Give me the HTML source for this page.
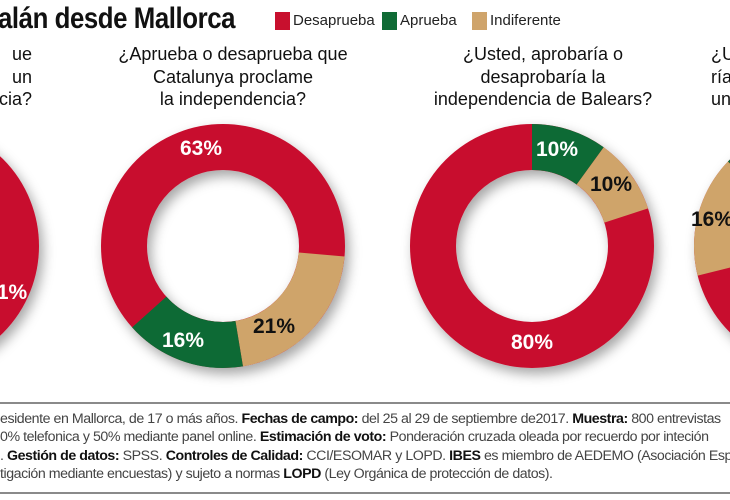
<!DOCTYPE html>
<html><head><meta charset="utf-8"><style>
html,body{margin:0;padding:0;background:#fff;}
body{width:730px;height:500px;position:relative;overflow:hidden;font-family:"Liberation Sans Narrow","Liberation Sans",sans-serif;}
.t{position:absolute;white-space:nowrap;}
.title{left:-2px;top:2px;font-size:30px;font-weight:bold;color:#111;letter-spacing:-0.5px;transform:scaleX(0.86);transform-origin:0 0;}
.leg{top:12px;font-size:15px;color:#222;}
.sq{position:absolute;top:12px;width:15px;height:18px;}
.q{position:absolute;font-size:18px;line-height:22.5px;color:#111;text-align:center;}
.foot{position:absolute;left:0;font-family:"Liberation Sans",sans-serif;font-size:14.2px;color:#444;white-space:nowrap;letter-spacing:-0.45px;}
.foot b{color:#111;font-weight:bold;}
.rule{position:absolute;left:0;width:730px;height:2px;background:#8a8a8a;}
</style></head><body>
<div class="t title">alán desde Mallorca</div>
<div class="sq" style="left:275px;background:#c8102e"></div><div class="t leg" style="left:293px">Desaprueba</div>
<div class="sq" style="left:382px;background:#0f6b35"></div><div class="t leg" style="left:400px">Aprueba</div>
<div class="sq" style="left:472px;background:#cfa46b"></div><div class="t leg" style="left:490px">Indiferente</div>

<div class="q" style="left:-60px;width:92px;top:43px;text-align:right">ue<br>un<br>cia?</div>
<div class="q" style="left:113px;width:240px;top:43px">¿Aprueba o desaprueba que<br>Catalunya proclame<br>la independencia?</div>
<div class="q" style="left:423px;width:240px;top:43px">¿Usted, aprobaría o<br>desaprobaría la<br>independencia de Balears?</div>
<div class="q" style="left:711px;width:60px;top:43px;text-align:left">¿U<br>ría<br>un</div>

<svg width="730" height="400" style="position:absolute;left:0;top:0">
<defs><filter id="sh" x="-20%" y="-20%" width="150%" height="150%"><feDropShadow dx="4" dy="6" stdDeviation="6" flood-color="#000" flood-opacity="0.35"/></filter></defs>
<g filter="url(#sh)">
<circle cx="-84" cy="246" r="100" fill="none" stroke="#c8102e" stroke-width="46"/>
<g transform="translate(223,246) rotate(-90)">
<circle r="99" fill="none" stroke="#c8102e" stroke-width="46"/>
<circle r="99" fill="none" stroke="#cfa46b" stroke-width="46" stroke-dasharray="130.6 1000" stroke-dashoffset="-164"/>
<circle r="99" fill="none" stroke="#0f6b35" stroke-width="46" stroke-dasharray="99.5 1000" stroke-dashoffset="-294.6"/>
</g>
<g transform="translate(532,246) rotate(-90)">
<circle r="99" fill="none" stroke="#c8102e" stroke-width="46"/>
<circle r="99" fill="none" stroke="#0f6b35" stroke-width="46" stroke-dasharray="62.2 1000"/>
<circle r="99" fill="none" stroke="#cfa46b" stroke-width="46" stroke-dasharray="62.2 1000" stroke-dashoffset="-62.2"/>
</g>
<g transform="translate(816,246) rotate(-90)">
<circle r="99" fill="none" stroke="#c8102e" stroke-width="46"/>
<circle r="99" fill="none" stroke="#cfa46b" stroke-width="46" stroke-dasharray="100 1000" stroke-dashoffset="-442"/>
<circle r="99" fill="none" stroke="#0f6b35" stroke-width="46" stroke-dasharray="60 1000" stroke-dashoffset="-542"/>
</g>
</g>
<g font-family="Liberation Sans, sans-serif" font-weight="bold" font-size="21" text-anchor="middle">
<text x="12" y="299" fill="#fff">1%</text>
<text x="201" y="155" fill="#fff">63%</text>
<text x="183" y="347" fill="#fff">16%</text>
<text x="274" y="333" fill="#111">21%</text>
<text x="557" y="156" fill="#fff">10%</text>
<text x="611" y="191" fill="#111">10%</text>
<text x="532" y="349" fill="#fff">80%</text>
<text x="712" y="226" fill="#111">16%</text>
</g>
</svg>

<div class="rule" style="top:402px"></div>
<div class="foot" style="top:411px">esidente en Mallorca, de 17 o más años. <b>Fechas de campo:</b> del 25 al 29 de septiembre de2017. <b>Muestra:</b> 800 entrevistas</div>
<div class="foot" style="top:429px">0% telefonica y 50% mediante panel online. <b>Estimación de voto:</b> Ponderación cruzada oleada por recuerdo por inteción</div>
<div class="foot" style="top:448px">. <b>Gestión de datos:</b> SPSS. <b>Controles de Calidad:</b> CCI/ESOMAR y LOPD. <b>IBES</b> es miembro de AEDEMO (Asociación Esp</div>
<div class="foot" style="top:466px">tigación mediante encuestas) y sujeto a normas <b>LOPD</b> (Ley Orgánica de protección de datos).</div>
<div class="rule" style="top:492px"></div>
</body></html>
